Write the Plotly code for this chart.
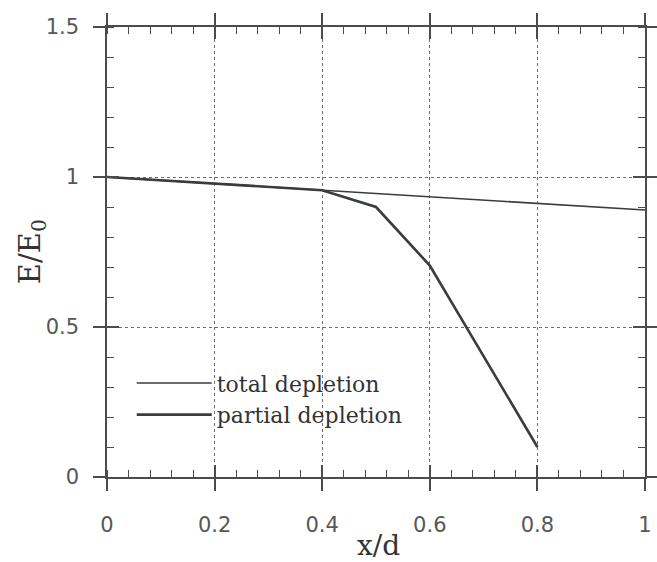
import plotly.graph_objects as go

# data
x_total = [0.0, 0.2, 0.4, 0.6, 0.8, 1.0]
y_total = [1.0, 0.978, 0.956, 0.934, 0.912, 0.89]
x_partial = [0.0, 0.2, 0.4, 0.5, 0.6, 0.8]
y_partial = [1.0, 0.978, 0.956, 0.90, 0.705, 0.10]
series_names = ["total depletion", "partial depletion"]
x_ticks = [0, 0.2, 0.4, 0.6, 0.8, 1]
y_ticks = [0, 0.5, 1, 1.5]

ink = "#3a3d3d"
axis_col = "#4a4d4d"
grid_col = "#6a6d6d"
label_col = "#555858"
serif = "DejaVu Serif"
sans = "DejaVu Sans"

fig = go.Figure()
fig.add_trace(go.Scatter(x=x_total, y=y_total, mode="lines", name=series_names[0],
                         line=dict(color=ink, width=1.6)))
fig.add_trace(go.Scatter(x=x_partial, y=y_partial, mode="lines", name=series_names[1],
                         line=dict(color=ink, width=2.6)))
# invisible trace to activate overlay axes (inward half of crossing major ticks)
fig.add_trace(go.Scatter(x=x_total, y=y_total, mode="lines", xaxis="x2", yaxis="y2",
                         line=dict(color="rgba(0,0,0,0)", width=0), showlegend=False,
                         hoverinfo="skip"))

common_tickfont = dict(family=sans, size=21, color=label_col)

fig.update_layout(
    width=657, height=562, autosize=False,
    margin=dict(l=107, r=12, t=27, b=85, autoexpand=False),
    paper_bgcolor="white", plot_bgcolor="white",
    showlegend=True,
    legend=dict(x=0.046, y=0.255, xanchor="left", yanchor="top",
                bgcolor="rgba(0,0,0,0)", borderwidth=0,
                font=dict(family=serif, size=22, color="#333"),
                itemwidth=75, tracegroupgap=0),
    xaxis=dict(range=[0, 1], tickvals=x_ticks, ticktext=[str(v) for v in x_ticks],
               ticks="outside", ticklen=12, tickwidth=1.5, tickcolor=axis_col,
               showline=True, linecolor=axis_col, linewidth=1.5, mirror="ticks",
               showgrid=True, gridcolor=grid_col, griddash="dot", gridwidth=1,
               zeroline=False, tickfont=common_tickfont, ticklabelstandoff=16,
               automargin=False,
               minor=dict(dtick=0.04, ticks="inside", ticklen=7, tickwidth=1.3,
                          tickcolor=axis_col, showgrid=False)),
    yaxis=dict(range=[0, 1.5], tickvals=y_ticks, ticktext=["0", "0.5", "1", "1.5"],
               ticks="outside", ticklen=12, tickwidth=1.5, tickcolor=axis_col,
               showline=True, linecolor=axis_col, linewidth=1.5, mirror="ticks",
               showgrid=True, gridcolor=grid_col, griddash="dot", gridwidth=1,
               zeroline=False, tickfont=common_tickfont, ticklabelstandoff=10,
               automargin=False,
               minor=dict(dtick=0.1, ticks="inside", ticklen=7, tickwidth=1.3,
                          tickcolor=axis_col, showgrid=False)),
    xaxis2=dict(overlaying="x", matches="x", anchor="y2", tickvals=x_ticks,
                ticks="inside", ticklen=12, tickwidth=1.5, tickcolor=axis_col,
                showticklabels=False, showgrid=False, zeroline=False,
                showline=False, mirror="ticks", automargin=False),
    yaxis2=dict(overlaying="y", matches="y", anchor="x2", tickvals=y_ticks,
                ticks="inside", ticklen=12, tickwidth=1.5, tickcolor=axis_col,
                showticklabels=False, showgrid=False, zeroline=False,
                showline=False, mirror="ticks", automargin=False),
    shapes=[dict(type="rect", xref="paper", yref="paper", x0=0.04, x1=0.684,
                 y0=0.003, y1=0.267, fillcolor="white", line=dict(width=0),
                 layer="between")],
    annotations=[
        dict(text="x/d", xref="paper", yref="paper", x=0.504, y=-0.152,
             showarrow=False, font=dict(family=serif, size=28, color="#333"),
             xanchor="center", yanchor="middle"),
        dict(text="E/E<sub>0</sub>", xref="paper", yref="paper", x=-0.139, y=0.5,
             showarrow=False, textangle=-90, font=dict(family=serif, size=29, color="#333"),
             xanchor="center", yanchor="middle"),
    ],
)

fig.write_html("out.html", config={"responsive": False})
